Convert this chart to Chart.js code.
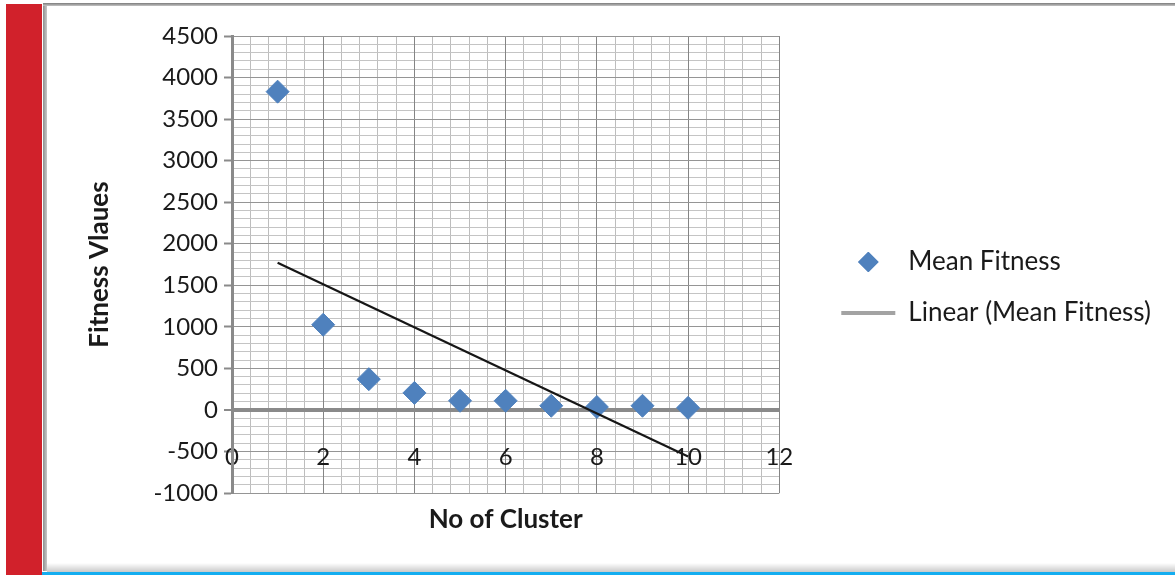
<!DOCTYPE html>
<html>
<head>
<meta charset="utf-8">
<script src="https://cdn.jsdelivr.net/npm/chart.js@4/dist/chart.umd.min.js"></script>
<style>
  html, body { margin: 0; padding: 0; background: #ffffff; }
  body { width: 1175px; height: 575px; position: relative; overflow: hidden; }
  #sidebar { position: absolute; left: 6px; top: 4px; width: 36px; height: 571px; background: #d1212b; }
  #frameLeft { position: absolute; left: 43px; top: 3px; width: 4px; height: 568px;
               background: linear-gradient(to right, #8e8e8e, #c8c8c8); }
  #frameTop { position: absolute; left: 43px; top: 3px; width: 1132px; height: 3px;
              background: linear-gradient(to bottom, #7c7c7c, #c4c4c4); }
  #frameShadow { position: absolute; left: 47px; top: 563px; width: 1128px; height: 9px;
                 background: linear-gradient(to bottom, #ffffff, #c9c9c9); }
  #frameBottom { position: absolute; left: 42px; top: 572px; width: 1133px; height: 3px; background: #14adf0; }
  #chartBox { position: absolute; left: 47px; top: 6px; width: 1128px; height: 557px; background: #ffffff; }
</style>
</head>
<body>
<div id="sidebar"></div>
<div id="frameLeft"></div>
<div id="frameTop"></div>
<div id="frameShadow"></div>
<div id="frameBottom"></div>
<div id="chartBox"><canvas id="chart" width="1128" height="557"></canvas></div>
<script>
// Number of clusters and the mean fitness reached for each
const clusters = [1, 2, 3, 4, 5, 6, 7, 8, 9, 10];
const meanFitness = [3830, 1025, 370, 205, 110, 110, 50, 35, 50, 25];

// Linear trend line end points
const trendX = [1, 10];
const trendY = [1770, -560];

// Axis ranges and steps
const xRange = [0, 12];
const xStep = 2;
const xMinorStep = 0.4;
const yRange = [-1000, 4500];
const yStep = 500;
const yMinorStep = 100;

const seriesName = 'Mean Fitness';
const trendName = 'Linear (Mean Fitness)';
const xTitle = 'No of Cluster';
const yTitle = 'Fitness Vlaues';

const markerBlue = '#4f81bd';
const textColor = '#1a1a1a';

Chart.defaults.font.family = 'Lato, "Open Sans", sans-serif';
Chart.defaults.color = textColor;

// Small diamond icon for the legend, drawn with the library's point helper
function diamondIcon(r) {
  const c = document.createElement('canvas');
  c.width = c.height = Math.ceil(r * 2 + 2);
  const g = c.getContext('2d');
  g.fillStyle = markerBlue;
  g.strokeStyle = markerBlue;
  g.lineWidth = 1;
  if (Chart.helpers && Chart.helpers.drawPoint) {
    Chart.helpers.drawPoint(g, { pointStyle: 'rectRot', radius: r, borderWidth: 1, rotation: 0 }, c.width / 2, c.height / 2);
  } else {
    g.beginPath();
    g.moveTo(c.width / 2, c.height / 2 - r);
    g.lineTo(c.width / 2 + r, c.height / 2);
    g.lineTo(c.width / 2, c.height / 2 + r);
    g.lineTo(c.width / 2 - r, c.height / 2);
    g.closePath();
    g.fill();
  }
  return c;
}

const points = clusters.map((x, i) => ({ x: x, y: meanFitness[i] }));
const trend = trendX.map((x, i) => ({ x: x, y: trendY[i] }));

new Chart(document.getElementById('chart'), {
  type: 'scatter',
  data: {
    datasets: [
      {
        label: seriesName,
        data: points,
        pointStyle: 'rectRot',
        pointRadius: 11.5,
        pointHoverRadius: 11.5,
        backgroundColor: markerBlue,
        borderColor: markerBlue,
        borderWidth: 1,
        order: 2
      },
      {
        type: 'line',
        label: trendName,
        data: trend,
        borderColor: '#161616',
        borderWidth: 2.2,
        pointRadius: 0,
        fill: false,
        showLine: true,
        order: 1
      }
    ]
  },
  options: {
    responsive: false,
    animation: false,
    layout: { padding: { left: 0, right: 14, top: 6, bottom: 0 } },
    plugins: {
      tooltip: { enabled: false },
      legend: {
        position: 'right',
        align: 'center',
        maxWidth: 420,
        labels: {
          usePointStyle: true,
          pointStyleWidth: 54,
          boxHeight: 14,
          padding: 25,
          font: { size: 26 },
          color: textColor,
          generateLabels: () => [
            { text: seriesName, pointStyle: diamondIcon(10), fillStyle: markerBlue, strokeStyle: markerBlue,
              lineWidth: 1, fontColor: textColor, datasetIndex: 0, hidden: false },
            { text: trendName, pointStyle: 'line', fillStyle: '#a3a3a3', strokeStyle: '#a3a3a3',
              lineWidth: 4, fontColor: textColor, datasetIndex: 1, hidden: false }
          ]
        }
      }
    },
    scales: {
      x: {
        type: 'linear',
        position: 'bottom',
        min: xRange[0],
        max: xRange[1],
        ticks: { stepSize: xStep, mirror: true, padding: 21, font: { size: 24 }, color: textColor,
                 autoSkip: false, maxRotation: 0 },
        grid: { color: '#858585', lineWidth: 1, drawTicks: false, z: -1 },
        border: { display: false },
        title: { display: true, text: xTitle, font: { size: 26, weight: 'bold' }, color: textColor,
                 padding: { top: 0, bottom: 28 } },
        afterFit: (s) => { s.height = 70; }
      },
      y: {
        type: 'linear',
        position: 'left',
        min: yRange[0],
        max: yRange[1],
        ticks: { stepSize: yStep, padding: 6, font: { size: 24 }, color: textColor,
                 callback: (v) => String(v) },
        grid: {
          color: (c) => (c.tick && c.tick.value === 0 ? '#8a8a8a' : '#959595'),
          lineWidth: (c) => (c.tick && c.tick.value === 0 ? 4 : 1),
          drawTicks: true,
          tickLength: 8,
          tickColor: '#8a8a8a',
          tickWidth: 2,
          z: -1
        },
        border: { display: true, color: '#8a8a8a', width: 3 },
        title: { display: true, text: yTitle, font: { size: 26, weight: 'bold' }, color: textColor,
                 padding: { top: 37, bottom: 0 } },
        afterFit: (s) => { s.width = 185; }
      },
      xMinor: {
        type: 'linear',
        position: 'top',
        min: xRange[0],
        max: xRange[1],
        z: -2,
        ticks: { display: false, stepSize: xMinorStep, maxTicksLimit: 100, autoSkip: false },
        grid: { color: '#bdbdbd', lineWidth: 1, drawTicks: false, z: -2 },
        border: { display: false },
        afterFit: (s) => { s.height = 24; }
      },
      yMinor: {
        type: 'linear',
        position: 'right',
        min: yRange[0],
        max: yRange[1],
        z: -2,
        ticks: { display: false, stepSize: yMinorStep, maxTicksLimit: 100, autoSkip: false },
        grid: { color: '#c4c4c4', lineWidth: 1, drawTicks: false, z: -2 },
        border: { display: false },
        afterFit: (s) => { s.width = 37; }
      }
    }
  }
});
</script>
</body>
</html>
